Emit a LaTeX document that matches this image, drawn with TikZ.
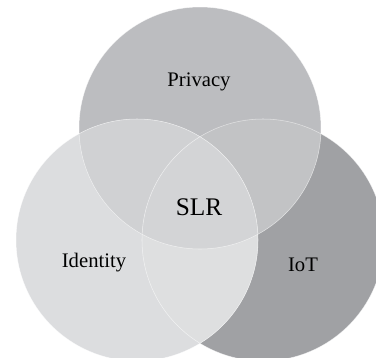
\documentclass[tikz,border=0pt]{standalone}
\usepackage{fontspec}
\setmainfont{Liberation Serif}
\usetikzlibrary{calc}

\definecolor{privacyC}{HTML}{BCBDC0}
\definecolor{iotC}{HTML}{A0A1A4}
\definecolor{identityC}{HTML}{DCDDDF}
\definecolor{privIotC}{HTML}{C2C3C5}
\definecolor{privIdC}{HTML}{D0D1D3}
\definecolor{idIotC}{HTML}{DEDFE0}
\definecolor{centreC}{HTML}{D3D4D6}

\begin{document}
\begin{tikzpicture}[x=0.75pt, y=-0.75pt,
  setlabel/.style={font=\fontsize{15.5}{18}\selectfont, black},
  rim/.style={draw=white, draw opacity=0.6, line width=0.4pt}]

\useasboundingbox (0,0) rectangle (376,358);
\clip (0,0) rectangle (376,358);

% === CIRCLE CENTRES ===
\coordinate (P) at (200,128);
\coordinate (D) at (137,240);
\coordinate (T) at (263,240);
\def\rad{90.75pt}

% === SETS ===
\fill[privacyC] (P) circle[radius=\rad];
\fill[iotC] (T) circle[radius=\rad];
\begin{scope}
  \clip (P) circle[radius=\rad];
  \fill[privIotC] (T) circle[radius=\rad];
\end{scope}
\fill[identityC] (D) circle[radius=\rad];
\begin{scope}
  \clip (D) circle[radius=\rad];
  \fill[privIdC] (P) circle[radius=\rad];
  \fill[idIotC] (T) circle[radius=\rad];
  \clip (P) circle[radius=\rad];
  \fill[centreC] (T) circle[radius=\rad];
\end{scope}

% === THIN RIMS ===
\draw[rim] (P) circle[radius=\rad];
\draw[rim] (D) circle[radius=\rad];
\draw[rim] (T) circle[radius=\rad];

% === LABELS ===
\node[setlabel] (privacy) at (199,82) {Privacy};
\node[setlabel] (identity) at (94,263) {Identity};
\node[setlabel] (iot) at (303,265) {IoT};
\node[font=\fontsize{19}{22}\selectfont, black] (slr) at (199,207) {SLR};

\end{tikzpicture}
\end{document}
